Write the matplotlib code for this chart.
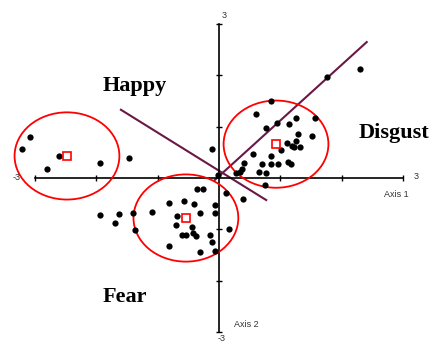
import numpy as np
import matplotlib
matplotlib.use("Agg")
import matplotlib.pyplot as plt
from matplotlib.patches import Ellipse

# scores on the two axes
happy_x = [-3.08, -3.21, -2.61, -2.81, -1.94, -1.47]
happy_y = [0.80, 0.57, 0.43, 0.18, 0.29, 0.39]

fear_x = [-1.94, -1.63, -1.70, -1.40, -1.37, -1.09, -0.82, -0.57, -0.41, -0.36,
          -0.26, 0.11, 0.39, -0.07, -0.07, -0.31, -0.69, -0.70, -0.44, -0.60,
          -0.54, -0.42, -0.38, -0.15, -0.11, 0.16, -0.82, -0.31, -0.07]
fear_y = [-0.72, -0.70, -0.88, -0.68, -1.01, -0.66, -0.49, -0.45, -0.51, -0.21,
          -0.21, -0.29, -0.41, -0.53, -0.68, -0.68, -0.74, -0.92, -0.96, -1.11,
          -1.11, -1.07, -1.13, -1.11, -1.25, -0.99, -1.33, -1.44, -1.42]

disgust_x = [0.85, 0.60, 0.77, 0.95, 1.14, 1.26, 1.57, 1.29, 1.52, 1.26,
             1.11, 1.19, 1.32, 1.22, 1.01, 0.55, 0.85, 0.70, 0.85, 0.96,
             1.13, 1.17, 0.41, 0.38, 0.34, 0.28, 0.65, 0.77, 1.76, 2.30]
disgust_y = [1.50, 1.25, 0.97, 1.07, 1.05, 1.17, 1.17, 0.86, 0.82, 0.72,
             0.68, 0.62, 0.60, 0.60, 0.55, 0.47, 0.43, 0.27, 0.27, 0.27,
             0.31, 0.27, 0.29, 0.18, 0.12, 0.10, 0.12, 0.10, 1.97, 2.12]

other_x = [-0.11, -0.02, 0.75]
other_y = [0.57, 0.06, -0.14]

# group centroids and circle size
groups = ["Happy", "Fear", "Disgust"]
centre_x = [-2.48, -0.54, 0.93]
centre_y = [0.43, -0.78, 0.66]
circle_w, circle_h = 1.71, 1.70

# separating lines
happy_line_x = [-1.60, 0.77]
happy_line_y = [1.33, -0.43]
disgust_line_x = [-0.07, 2.41]
disgust_line_y = [-0.04, 2.65]

label_x = [-1.38, -1.54, 2.86]
label_y = [1.70, -2.42, 0.78]

fig = plt.figure(figsize=(4.36, 3.45), dpi=100)
ax = fig.add_axes([0, 0, 1, 1])
ax.set_xlim(-219 / 61.3, (436 - 219) / 61.3)
ax.set_ylim((178 - 345) / 51.3, 178 / 51.3)

for s in ["top", "right"]:
    ax.spines[s].set_visible(False)
for s in ["left", "bottom"]:
    ax.spines[s].set_position("zero")
    ax.spines[s].set_bounds(-3, 3)
    ax.spines[s].set_linewidth(1.2)
ticks = [-3, -2, -1, 1, 2, 3]
ax.set_xticks(ticks)
ax.set_yticks(ticks)
ax.tick_params(direction="inout", length=5, width=1, labelleft=False, labelbottom=False)

ax.plot(happy_line_x, happy_line_y, color="#6a1846", lw=1.5, zorder=2)
ax.plot(disgust_line_x, disgust_line_y, color="#6a1846", lw=1.5, zorder=2)

for cx, cy in zip(centre_x, centre_y):
    ax.add_patch(Ellipse((cx, cy), circle_w, circle_h, fill=False, ec="red", lw=1.3, zorder=3))

for xs, ys in [(happy_x, happy_y), (fear_x, fear_y), (disgust_x, disgust_y), (other_x, other_y)]:
    ax.plot(xs, ys, "o", color="black", ms=4.5, mec="none", zorder=4)

ax.plot(centre_x, centre_y, "s", ms=6, mfc="white", mec="red", mew=1.2, ls="none", zorder=5)

for name, lx, ly in zip(groups, label_x, label_y):
    ax.text(lx, ly, name, ha="center", va="baseline", fontsize=16, fontweight="bold",
            family="Liberation Serif")

small = dict(fontsize=6.5, color="#333333", family="Liberation Sans", ha="center", va="center")
ax.text(0.08, 3.16, "3", **small)
ax.text(3.21, 0.02, "3", **small)
ax.text(0.05, -3.13, "-3", **small)
ax.text(-3.31, 0.0, "-3", **small)
ax.text(2.90, -0.33, "Axis 1", **small)
ax.text(0.44, -2.85, "Axis 2", **small)

fig.savefig("out.png", dpi=100)
